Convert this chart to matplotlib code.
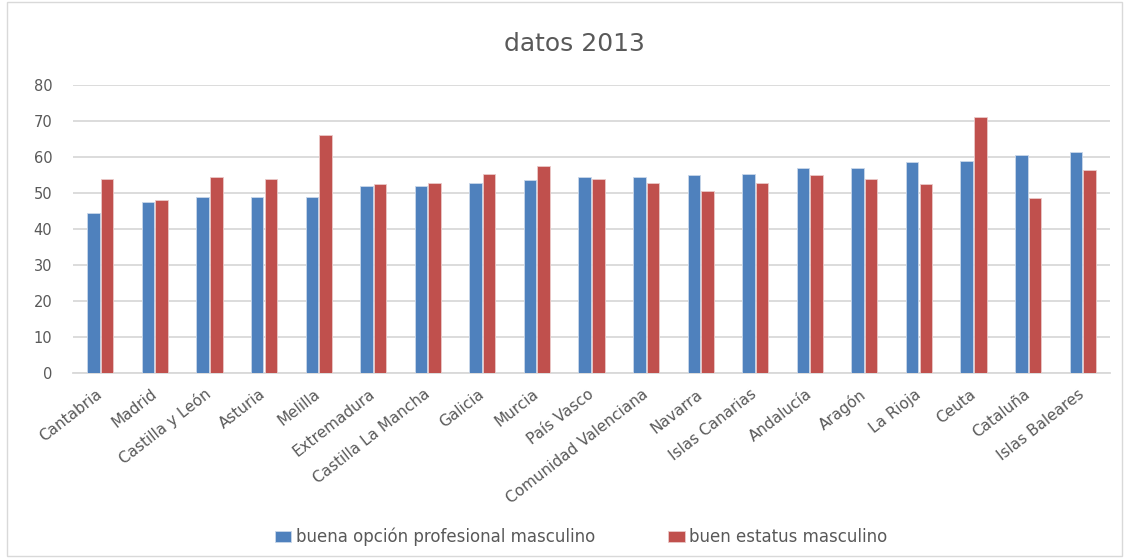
import matplotlib
matplotlib.use("Agg")
import matplotlib.pyplot as plt
import numpy as np
from matplotlib.patches import Rectangle

categories = ["Cantabria", "Madrid", "Castilla y León", "Asturia", "Melilla",
              "Extremadura", "Castilla La Mancha", "Galicia", "Murcia", "País Vasco",
              "Comunidad Valenciana", "Navarra", "Islas Canarias", "Andalucía",
              "Aragón", "La Rioja", "Ceuta", "Cataluña", "Islas Baleares"]
profesional = [44.4, 47.5, 48.9, 48.9, 48.9, 52.0, 52.0, 52.9, 53.5, 54.5,
               54.5, 55.0, 55.4, 57.0, 57.0, 58.5, 59.0, 60.5, 61.5]
estatus = [54.0, 48.0, 54.5, 54.0, 66.1, 52.5, 52.9, 55.4, 57.5, 54.0,
           52.9, 50.5, 52.9, 55.0, 54.0, 52.5, 71.1, 48.5, 56.5]
series_names = ["buena opción profesional masculino", "buen estatus masculino"]
yticks = [0, 10, 20, 30, 40, 50, 60, 70, 80]

plt.rcParams['font.family'] = ['DejaVu Sans']
txt = "#595959"
blue = "#4F81BD"
red = "#C0504D"

fig = plt.figure(figsize=(11.29, 5.58), dpi=100)
W, H = 1129, 558
ax = fig.add_axes([73 / W, 1 - 373 / H, (1110 - 73) / W, (373 - 85) / H])

x = np.arange(len(categories))
bw = 0.23
ax.bar(x - 0.125, profesional, bw, color=blue, edgecolor="#c9d7ea", linewidth=0.6, zorder=3,
       label=series_names[0])
ax.bar(x + 0.125, estatus, bw, color=red, edgecolor="#eac9c8", linewidth=0.6, zorder=3,
       label=series_names[1])

ax.set_xlim(-0.5, len(categories) - 0.5)
ax.set_ylim(0, 80)
ax.set_yticks(yticks)
ax.yaxis.grid(True, color="#d9d9d9", linewidth=1.3, zorder=0)
ax.set_axisbelow(True)
for s in ["top", "right", "left"]:
    ax.spines[s].set_visible(False)
ax.spines["bottom"].set_color("#d9d9d9")
ax.spines["bottom"].set_linewidth(1.3)
ax.tick_params(axis="y", length=0, labelsize=10.5, labelcolor=txt, pad=15)
ax.tick_params(axis="x", length=0, labelsize=11, labelcolor=txt, pad=14)
ax.set_xticks(x)
ax.set_xticklabels(categories, rotation=38, ha="right", va="center", rotation_mode="anchor")

fig.text(574 / W, 1 - 44 / H, "datos 2013", ha="center", va="center", fontsize=18, color=txt)

handles, labels = ax.get_legend_handles_labels()
fig.legend(handles, labels, loc="center", bbox_to_anchor=(581 / W, 1 - 537 / H), ncol=2,
           frameon=False, fontsize=12, labelcolor=txt, handlelength=1.0, handleheight=0.65,
           handletextpad=0.25, columnspacing=4.4)

fig.add_artist(Rectangle((7 / W, 2 / H), 1 - 14 / W, 1 - 4 / H, transform=fig.transFigure,
                         fill=False, edgecolor="#d9d9d9", linewidth=1))

fig.savefig("out.png", dpi=100)
